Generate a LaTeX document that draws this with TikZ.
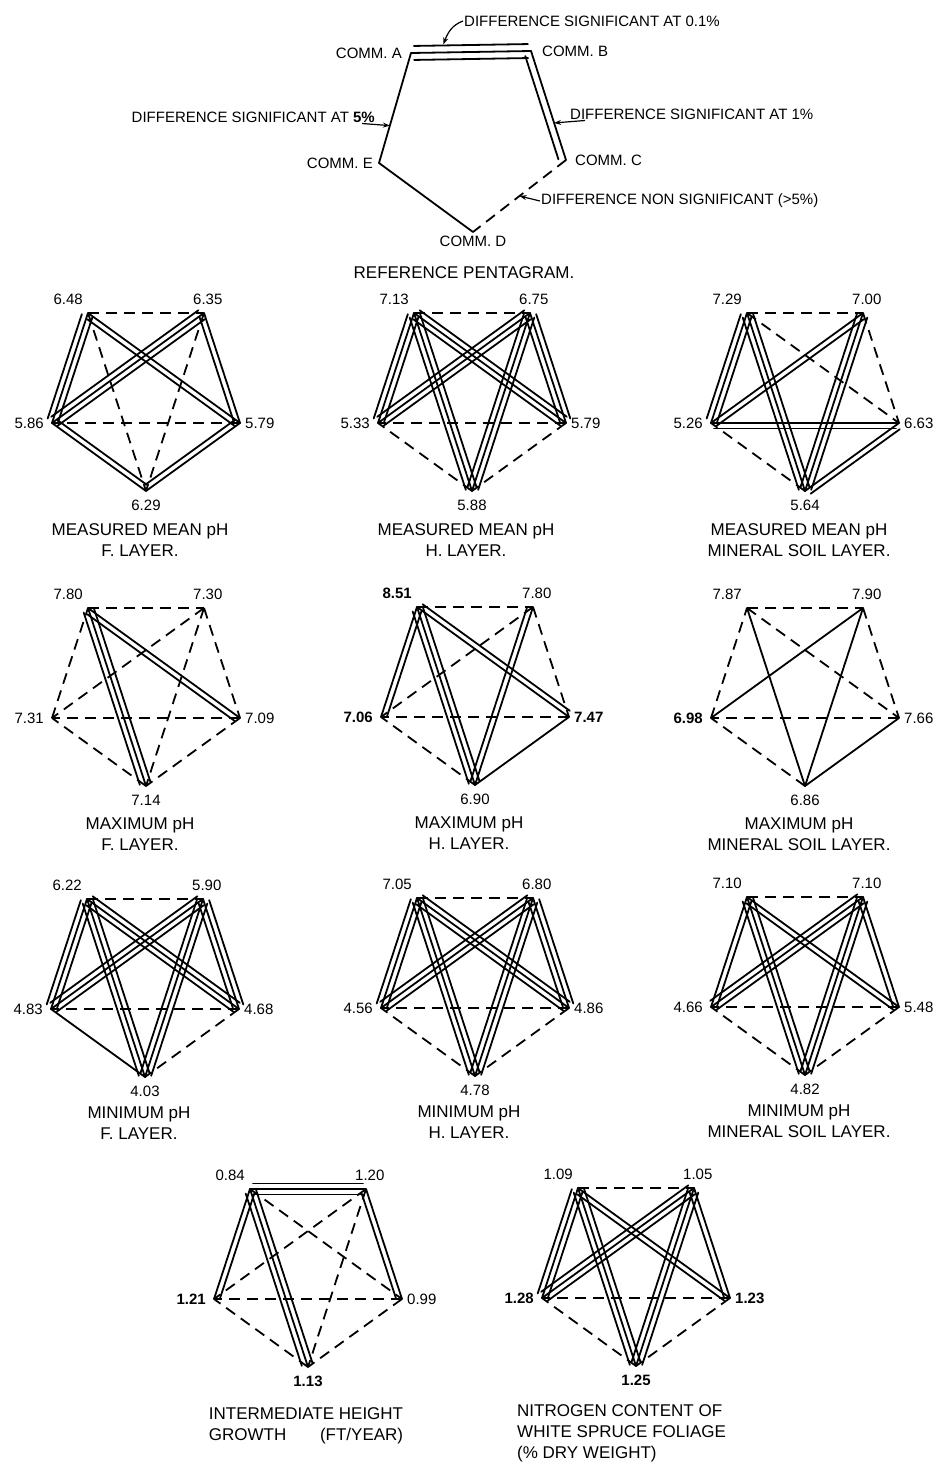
\documentclass[tikz,border=0pt]{standalone}
\usepackage{fontspec}
\setmainfont{Liberation Sans}
\usetikzlibrary{calc,arrows.meta,positioning}

\tikzset{
  sig/.style={line width=1.8pt, line cap=round},
  nsig/.style={line width=1.8pt, dash pattern=on 11pt off 7pt},
  val/.style={font=\fontsize{15}{17}\selectfont, inner sep=1pt},
  comm/.style={font=\fontsize{15}{17}\selectfont, inner sep=1pt},
  caption/.style={font=\fontsize{17}{21}\selectfont, align=center, inner sep=0pt},
  pointer/.style={line width=1.2pt, -{Stealth[length=7pt,width=5pt]}},
}

\newcommand\gap{5.5pt}
\newcommand\sh{3pt}

% one connector: 0 dashed, 1 single, 2 double, 3 triple
\newcommand\pentlink[3]{%
  \ifcase#1
    \draw[nsig] (#2) -- (#3);
  \or
    \draw[sig] (#2) -- (#3);
  \or
    \draw[sig] (#2) -- (#3);
    \draw[sig, shorten <=\sh, shorten >=\sh] ($(#2)!\gap!-90:(#3)$) -- ($(#3)!\gap!90:(#2)$);
  \or
    \draw[sig] (#2) -- (#3);
    \draw[sig, shorten <=\sh, shorten >=\sh] ($(#2)!\gap!-90:(#3)$) -- ($(#3)!\gap!90:(#2)$);
    \draw[sig, shorten <=\sh, shorten >=\sh] ($(#2)!\gap!90:(#3)$) -- ($(#3)!\gap!-90:(#2)$);
  \fi}

% corners a..e of one pentagram and their values
\newcommand\pentcorners[6]{%
  \coordinate (#1a) at (-58,0);
  \coordinate (#1b) at (58,0);
  \coordinate (#1c) at (94,110);
  \coordinate (#1d) at (0,178);
  \coordinate (#1e) at (-94,110);
  \node[val, anchor=south east] (#1va) at ([shift={(-4pt,7pt)}]#1a) {#2};
  \node[val, anchor=south west] (#1vb) at ([shift={(-12pt,7pt)}]#1b) {#3};
  \node[val, anchor=west] (#1vc) at ([xshift=4pt]#1c) {#4};
  \node[val, anchor=north] (#1vd) at ([yshift=-8pt]#1d) {#5};
  \node[val, anchor=east] (#1ve) at ([xshift=-7pt]#1e) {#6};
}

\begin{document}
\begin{tikzpicture}[x=1pt,y=-1pt]
\useasboundingbox (0,0) rectangle (937,1467);

%reference pentagram
\begin{scope}
  \renewcommand\gap{7pt}
  \coordinate (ra) at (411,53);
  \coordinate (rb) at (531,51);
  \coordinate (rc) at (566,160);
  \coordinate (rd) at (473,232);
  \coordinate (re) at (379,163);
  \pentlink{3}{ra}{rb}
  \pentlink{2}{rb}{rc}
  \pentlink{0}{rc}{rd}
  \pentlink{1}{rd}{re}
  \pentlink{1}{re}{ra}

  \node[comm, anchor=east] (la) at ([xshift=-8pt]ra) {COMM. A};
  \node[comm, anchor=west] (lb) at ([xshift=10pt]rb) {COMM. B};
  \node[comm, anchor=west] (lc) at ([xshift=8pt]rc) {COMM. C};
  \node[comm, anchor=north] (ld) at ([yshift=-3pt]rd) {COMM. D};
  \node[comm, anchor=east] (le) at ([xshift=-5pt]re) {COMM. E};

  %keys
  \node[comm, anchor=west] (t01) at (463,21) {DIFFERENCE SIGNIFICANT AT 0.1\%};
  \node[comm, anchor=east] (t5) at (376,117) {DIFFERENCE SIGNIFICANT AT \textbf{5\%}};
  \node[comm, anchor=west] (t1) at (569,114) {DIFFERENCE SIGNIFICANT AT 1\%};
  \node[comm, anchor=west] (tns) at (540,201) {DIFFERENCE NON SIGNIFICANT (>5\%)};
  \coordinate (r01) at ($(ra)!0.27!(rb)$);
  \coordinate (r5) at ($(ra)!0.66!(re)$);
  \coordinate (r1) at ($(rb)!0.66!(rc)$);
  \coordinate (rns) at ($(rc)!0.5!(rd)$);
  \draw[pointer] (t01.west) to[out=200,in=70] ([yshift=8pt]r01);
  \draw[pointer] ([xshift=-14pt]t5.south east) -- (r5);
  \draw[pointer] ([xshift=16pt]t1.south west) -- (r1);
  \draw[pointer] (tns.west) -- (rns);

  \node[caption] (rcap) at (464,273) {REFERENCE PENTAGRAM.};
\end{scope}

%measured mean pH
\begin{scope}[shift={(146,313)}]
  \pentcorners{p1}{6.48}{6.35}{5.79}{6.29}{5.86}
  \foreach \typ/\src/\dst in {0/a/b,2/b/c,2/c/d,2/d/e,3/e/a,2/a/c,0/a/d,0/b/d,3/b/e,0/c/e}
    {\pentlink\typ{p1\src}{p1\dst}}
  \node[caption, anchor=north] (p1cap) at ([shift={(-6pt,-32pt)}]p1d) {MEASURED MEAN pH\\F. LAYER.};
\end{scope}
\begin{scope}[shift={(472,313)}]
  \pentcorners{p2}{7.13}{6.75}{5.79}{5.88}{5.33}
  \foreach \typ/\src/\dst in {0/a/b,3/b/c,0/c/d,0/d/e,3/e/a,3/a/c,3/a/d,3/b/d,3/b/e,0/c/e}
    {\pentlink\typ{p2\src}{p2\dst}}
  \node[caption, anchor=north] (p2cap) at ([shift={(-6pt,-32pt)}]p2d) {MEASURED MEAN pH\\H. LAYER.};
\end{scope}
\begin{scope}[shift={(805,313)}]
  \pentcorners{p3}{7.29}{7.00}{6.63}{5.64}{5.26}
  \foreach \typ/\src/\dst in {0/a/b,0/b/c,2/d/c,0/d/e,3/e/a,0/a/c,3/a/d,3/b/d,2/e/b,2/e/c}
    {\pentlink\typ{p3\src}{p3\dst}}
  \node[caption, anchor=north] (p3cap) at ([shift={(-6pt,-32pt)}]p3d) {MEASURED MEAN pH\\MINERAL SOIL LAYER.};
\end{scope}

%maximum pH
\begin{scope}[shift={(146,608)}]
  \pentcorners{p4}{7.80}{7.30}{7.09}{7.14}{7.31}
  \foreach \typ/\src/\dst in {0/a/b,0/b/c,0/c/d,0/d/e,0/e/a,2/a/c,3/a/d,0/b/d,0/b/e,0/c/e}
    {\pentlink\typ{p4\src}{p4\dst}}
  \node[caption, anchor=north] (p4cap) at ([shift={(-6pt,-32pt)}]p4d) {MAXIMUM pH\\F. LAYER.};
\end{scope}
\begin{scope}[shift={(475,607)}]
  \pentcorners{p5}{\bfseries 8.51}{7.80}{\bfseries 7.47}{6.90}{\bfseries 7.06}
  \foreach \typ/\src/\dst in {0/a/b,0/b/c,1/c/d,0/d/e,2/e/a,2/c/a,3/a/d,2/b/d,0/b/e,0/c/e}
    {\pentlink\typ{p5\src}{p5\dst}}
  \node[caption, anchor=north] (p5cap) at ([shift={(-6pt,-32pt)}]p5d) {MAXIMUM pH\\H. LAYER.};
\end{scope}
\begin{scope}[shift={(805,608)}]
  \pentcorners{p6}{7.87}{7.90}{7.66}{6.86}{\bfseries 6.98}
  \foreach \typ/\src/\dst in {0/a/b,0/b/c,1/c/d,0/d/e,0/e/a,0/a/c,1/a/d,1/b/d,1/b/e,0/c/e}
    {\pentlink\typ{p6\src}{p6\dst}}
  \node[caption, anchor=north] (p6cap) at ([shift={(-6pt,-32pt)}]p6d) {MAXIMUM pH\\MINERAL SOIL LAYER.};
\end{scope}

%minimum pH
\begin{scope}[shift={(145,899)}]
  \pentcorners{p7}{6.22}{5.90}{4.68}{4.03}{4.83}
  \foreach \typ/\src/\dst in {0/a/b,3/b/c,0/c/d,1/d/e,3/e/a,3/a/c,3/a/d,3/b/d,3/b/e,0/c/e}
    {\pentlink\typ{p7\src}{p7\dst}}
  \node[caption, anchor=north] (p7cap) at ([shift={(-6pt,-30pt)}]p7d) {MINIMUM pH\\F. LAYER.};
\end{scope}
\begin{scope}[shift={(475,898)}]
  \pentcorners{p8}{7.05}{6.80}{4.86}{4.78}{4.56}
  \foreach \typ/\src/\dst in {0/a/b,3/b/c,0/c/d,0/d/e,3/e/a,3/a/c,3/a/d,3/b/d,3/b/e,0/c/e}
    {\pentlink\typ{p8\src}{p8\dst}}
  \node[caption, anchor=north] (p8cap) at ([shift={(-6pt,-30pt)}]p8d) {MINIMUM pH\\H. LAYER.};
\end{scope}
\begin{scope}[shift={(805,897)}]
  \pentcorners{p9}{7.10}{7.10}{5.48}{4.82}{4.66}
  \foreach \typ/\src/\dst in {0/a/b,2/b/c,0/c/d,0/d/e,2/e/a,2/a/c,3/a/d,3/b/d,3/b/e,0/c/e}
    {\pentlink\typ{p9\src}{p9\dst}}
  \node[caption, anchor=north] (p9cap) at ([shift={(-6pt,-30pt)}]p9d) {MINIMUM pH\\MINERAL SOIL LAYER.};
\end{scope}

%growth and nitrogen
\begin{scope}[shift={(308,1189)}]
  \pentcorners{p10}{0.84}{1.20}{0.99}{\bfseries 1.13}{\bfseries 1.21}
  \foreach \typ/\src/\dst in {3/a/b,2/b/c,0/c/d,0/d/e,2/e/a,0/a/c,3/a/d,0/b/d,0/b/e,0/c/e}
    {\pentlink\typ{p10\src}{p10\dst}}
  \node[caption, anchor=north] (p10cap) at ([shift={(-2pt,-38pt)}]p10d)
    {\begin{tabular}{@{}l@{}}INTERMEDIATE HEIGHT\\GROWTH\hfill(FT/YEAR)\end{tabular}};
\end{scope}
\begin{scope}[shift={(636,1188)}]
  \pentcorners{p11}{1.09}{1.05}{\bfseries 1.23}{\bfseries 1.25}{\bfseries 1.28}
  \foreach \typ/\src/\dst in {0/a/b,2/b/c,0/c/d,0/d/e,3/e/a,2/a/c,3/a/d,3/b/d,3/b/e,0/c/e}
    {\pentlink\typ{p11\src}{p11\dst}}
  \node[caption, anchor=north west, align=left] (p11cap) at ([shift={(-119pt,-38pt)}]p11d)
    {NITROGEN CONTENT OF\\WHITE SPRUCE FOLIAGE\\(\% DRY WEIGHT)};
\end{scope}

\end{tikzpicture}
\end{document}
